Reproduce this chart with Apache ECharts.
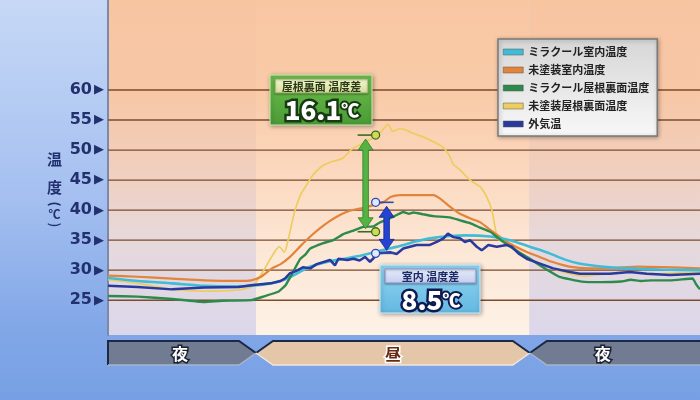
<!DOCTYPE html>
<html><head><meta charset="utf-8">
<script src="https://cdn.jsdelivr.net/npm/echarts@6/dist/echarts.min.js"></script>
<style>html,body{margin:0;padding:0;background:#7aa2e3}#c{width:700px;height:400px}</style>
</head><body><div id="c"></div>
<script>
// ---------- DATA ----------
const seriesNames = ['ミラクール室内温度', '未塗装室内温度', 'ミラクール屋根裏面温度', '未塗装屋根裏面温度', '外気温'];
const yTicks = [25, 30, 35, 40, 45, 50, 55, 60];
const yMin = 19.2, yMax = 75;           // temperature axis range (°C)
const xMin = 0, xMax = 24;              // time of day (h)
const periodStart = [0, 6, 17.1];
const periodEnd = [6, 17.1, 24];
const periodLabel = ['夜', '昼', '夜'];

const miracleIndoor = [[0,28.7],[1.2,28.2],[2.6,27.8],[3.9,27.4],[5.3,27.3],[5.8,27.4],[6.6,27.8],[7.2,28.5],[7.6,29.3],[8.2,30.6],[9.0,31.5],[9.6,31.9],[10.1,32.3],[10.9,33.1],[11.5,33.7],[12.0,34.2],[12.5,34.8],[13.05,35.3],[13.9,35.7],[14.5,35.8],[15.5,35.6],[16.3,35.0],[17.1,33.9],[17.9,32.8],[18.5,31.8],[19.1,31.1],[20.0,30.6],[21.0,30.3],[22.4,30.1],[24,30.0]];
const unpaintedIndoor = [[0,29.1],[1.2,28.9],[2.6,28.6],[3.9,28.3],[5.3,28.2],[5.8,28.3],[6.2,28.9],[6.65,30.3],[7.0,31.0],[7.4,32.3],[7.8,34.0],[8.2,35.6],[8.6,37.0],[9.0,38.2],[9.4,39.2],[9.8,39.9],[10.35,40.4],[10.9,41.0],[11.2,41.4],[11.45,42.2],[11.85,42.5],[13.2,42.5],[13.5,41.8],[13.86,40.6],[14.27,39.4],[14.7,38.6],[15.08,38.0],[15.6,36.4],[16.3,34.4],[17.0,33.0],[17.5,32.2],[18.0,31.4],[18.7,30.6],[19.5,30.3],[20.5,30.4],[21.5,30.6],[22.5,30.5],[24,30.3]];
const miracleRoof = [[0,25.7],[1.2,25.6],[2.6,25.2],[3.9,24.7],[4.6,24.9],[5.8,25.0],[6.3,25.6],[6.9,26.4],[7.2,27.5],[7.45,29.3],[7.78,31.8],[8.0,32.6],[8.2,33.6],[8.73,34.5],[9.13,35.0],[9.54,36.0],[9.95,36.6],[10.35,37.2],[10.76,37.3],[11.0,37.9],[11.3,38.4],[11.57,38.9],[11.97,39.7],[12.2,39.4],[12.38,39.6],[12.78,39.3],[13.19,39.0],[13.86,38.8],[14.27,38.3],[14.7,37.8],[15.08,37.1],[15.5,36.4],[15.8,35.4],[16.42,33.6],[17.1,31.9],[17.78,30.1],[18.3,28.9],[19.2,28.1],[20.0,28.0],[20.8,28.1],[21.2,28.4],[21.6,28.2],[22.0,28.3],[22.8,28.3],[23.7,28.6],[23.85,27.6],[24,26.8]];
const unpaintedRoof = [[0,28.4],[1.2,27.8],[2.6,26.8],[3.9,26.5],[5.3,26.7],[5.85,27.3],[6.2,29.2],[6.5,31.3],[6.8,33.3],[6.95,33.9],[7.15,33.0],[7.3,35.0],[7.55,39.5],[7.8,42.5],[8.05,44.2],[8.3,45.8],[8.7,47.4],[9.1,48.1],[9.5,48.6],[9.9,50.2],[10.5,51.5],[10.9,52.4],[11.1,53.2],[11.35,54.3],[11.55,53.1],[11.84,53.6],[12.1,53.3],[12.36,52.8],[12.77,52.2],[13.33,51.1],[13.6,50.4],[13.86,48.9],[14.0,47.6],[14.27,46.7],[14.68,45.0],[15.08,43.9],[15.35,42.2],[15.56,40.0],[15.69,37.2],[15.81,35.2],[16.3,34.2],[16.97,32.2],[17.51,31.1],[17.92,30.4],[18.7,29.4],[19.3,29.0],[20.0,29.3],[21.0,29.7],[22.4,29.4],[24,29.7]];
const outdoor = [[0,27.4],[1.2,27.2],[2.6,26.8],[3.9,27.1],[5.3,27.2],[5.8,27.5],[6.6,27.8],[7.0,28.2],[7.2,28.7],[7.38,29.5],[7.6,29.8],[7.92,30.5],[8.2,30.3],[8.46,31.0],[9.0,31.7],[9.2,30.8],[9.34,31.9],[9.7,31.7],[9.95,31.9],[10.2,31.6],[10.42,32.2],[10.62,31.4],[10.96,32.8],[11.43,33.0],[11.7,32.7],[11.97,33.6],[12.51,34.2],[13.05,34.2],[13.33,34.7],[13.6,35.3],[13.78,36.1],[14.0,35.5],[14.27,35.3],[14.47,34.7],[14.68,35.0],[14.95,33.9],[15.15,33.3],[15.42,34.2],[15.76,33.9],[16.16,34.2],[16.37,33.9],[16.64,32.8],[16.97,31.9],[17.51,31.1],[18.05,30.3],[18.73,29.7],[19.13,29.4],[20.35,29.4],[21.16,29.7],[21.84,29.4],[22.78,29.2],[24,29.4]];

// temperature difference annotations
const diffHour = [10.85, 10.85];
const diffTop = [52.5, 41.3];
const diffBottom = [36.4, 32.8];
const diffValue = [16.1, 8.5];
const diffTitle = ['屋根裏面 温度差', '室内 温度差'];

// ---------- STYLE ----------
const FONT = '"Noto Sans CJK JP", "Noto Sans CJK SC", sans-serif';
const NAVY = '#22306e';
const lineColors = ['#40bcd7', '#e3843a', '#2c8a4c', '#eccd5e', '#283a9e'];
const lineWidths = [2.6, 2.2, 2.4, 1.7, 2.5];
const lineSmooth = [0.25, 0.2, 0.1, 0.2, 0];
const lineZ = [5, 4, 5, 3, 6];
const annotStyle = [
  {offset: -10, dir: -1, fill: '#54b443', edge: '#2f7d2a', circle: '#cddc55', ring: '#3c6a1e'},
  {offset: 11, dir: 1, fill: '#2443d2', edge: '#112a8e', circle: '#dfe9ff', ring: '#3048b0'}
];

function vgrad(stops) {
  return new echarts.graphic.LinearGradient(0, 0, 0, 1, stops.map(s => ({offset: s[0], color: s[1]})));
}
const nightBg = [[0,'#f8c5a1'],[0.28,'#f7c7a6'],[0.5,'#f1cfbd'],[0.72,'#e6d9dc'],[1,'#dbd7ea']];
const dayBg = [[0,'#f9c6a2'],[0.28,'#f9cba8'],[0.5,'#fbd7bd'],[0.72,'#fce6d4'],[1,'#fdf2e6']];

const chart = echarts.init(document.getElementById('c'), null, {renderer: 'canvas'});

const periodSeries = {
  type: 'custom', name: 'periods', z: 0, clip: false, silent: true,
  data: periodStart.map((s, i) => [s, periodEnd[i], yMin]),
  encode: {x: [0, 1], y: 2},
  renderItem(params, api) {
    const i = params.dataIndex, last = periodStart.length - 1;
    const a = api.coord([api.value(0), yMax]);
    const b = api.coord([api.value(1), yMin]);
    const x0 = a[0], x1 = b[0], top = a[1], bot = b[1];
    const isDay = periodLabel[i] === '昼';
    const by0 = bot + 6, by1 = bot + 30, bm = (by0 + by1) / 2, d = 17;
    const topPts = [], botPts = [];
    if (i === 0) { topPts.push([x0, by1], [x0, by0]); } else { topPts.push([x0, bm], [x0 + d, by0]); }
    if (i === last) { topPts.push([x1, by0]); } else { topPts.push([x1 - d, by0], [x1, bm]); }
    if (i === last) { botPts.push([x1, by1]); } else { botPts.push([x1, bm], [x1 - d, by1]); }
    if (i === 0) { botPts.push([x0, by1]); } else { botPts.push([x0 + d, by1], [x0, bm]); }
    const poly = topPts.concat(botPts);
    let tx;
    if (i === 0) tx = x1 - 76; else if (i === last) tx = x0 + 73; else tx = (x0 + x1) / 2;
    return {
      type: 'group',
      children: [
        {type: 'rect', shape: {x: x0, y: top, width: x1 - x0, height: bot - top}, style: {fill: vgrad(isDay ? dayBg : nightBg)}},
        {type: 'polygon', shape: {points: poly}, style: {fill: isDay ? '#e4c7a9' : '#717b91'}},
        {type: 'polyline', shape: {points: topPts}, style: {stroke: '#1d2747', lineWidth: 2, fill: null}},
        {type: 'polyline', shape: {points: botPts}, style: {stroke: isDay ? '#f4e6d8' : '#a9b4cc', lineWidth: 1.5, fill: null}},
        {type: 'text', x: tx, y: bm + 1, style: {text: periodLabel[i], align: 'center', verticalAlign: 'middle',
          font: 'bold 16px ' + FONT, fill: isDay ? '#6a2810' : '#ffffff',
          stroke: isDay ? '#ffffff' : '#1a2030', lineWidth: 3}}
      ]
    };
  }
};

const gridSeries = {
  type: 'custom', name: 'gridlines', z: 1, silent: true,
  data: yTicks.map(v => [xMin, v, xMax]),
  encode: {x: [0, 2], y: 1},
  renderItem(params, api) {
    const p1 = api.coord([api.value(0), api.value(1)]);
    const p2 = api.coord([api.value(2), api.value(1)]);
    return {type: 'line', shape: {x1: p1[0], y1: p1[1], x2: p2[0], y2: p2[1]},
      style: {stroke: '#7b4a2f', lineWidth: 1.4}};
  }
};

const lineData = [miracleIndoor, unpaintedIndoor, miracleRoof, unpaintedRoof, outdoor];
const lineSeries = lineData.map((d, i) => ({
  type: 'line', name: seriesNames[i], data: d, z: lineZ[i],
  showSymbol: false, smooth: lineSmooth[i],
  lineStyle: {color: lineColors[i], width: lineWidths[i]},
  itemStyle: {color: lineColors[i]}
}));

const annotSeries = {
  type: 'custom', name: 'diff', z: 10, clip: false, silent: true,
  data: diffHour.map((h, i) => [h, diffTop[i], diffBottom[i]]),
  encode: {x: 0, y: [1, 2]},
  renderItem(params, api) {
    const st = annotStyle[params.dataIndex];
    const p1 = api.coord([api.value(0), api.value(1)]);
    const p2 = api.coord([api.value(0), api.value(2)]);
    const ax = p1[0] + st.offset;
    const hw = 7.5, hh = 11, sw = 2.8;
    const t = p1[1] + 4, b = p2[1] - 3;
    return {
      type: 'group',
      children: [
        {type: 'line', shape: {x1: p1[0], y1: p1[1], x2: p1[0] + st.dir * 18, y2: p1[1]}, style: {stroke: st.ring, lineWidth: 1.6}},
        {type: 'line', shape: {x1: p2[0], y1: p2[1], x2: p2[0] + st.dir * 18, y2: p2[1]}, style: {stroke: st.ring, lineWidth: 1.6}},
        {type: 'polygon', shape: {points: [[ax, t], [ax + hw, t + hh], [ax + sw, t + hh], [ax + sw, b - hh], [ax + hw, b - hh], [ax, b], [ax - hw, b - hh], [ax - sw, b - hh], [ax - sw, t + hh], [ax - hw, t + hh]]},
          style: {fill: st.fill, stroke: st.edge, lineWidth: 0.8}},
        {type: 'circle', shape: {cx: p1[0], cy: p1[1], r: 4}, style: {fill: st.circle, stroke: st.ring, lineWidth: 1.3}},
        {type: 'circle', shape: {cx: p2[0], cy: p2[1], r: 4}, style: {fill: st.circle, stroke: st.ring, lineWidth: 1.3}}
      ]
    };
  }
};

function diffBox(x, y, w, h, i, outer, outerStroke, strip, stripStroke, titleColor, numStroke) {
  const Z = 100;
  return [
    {type: 'rect', z: Z, x: x, y: y, shape: {x: 0, y: 0, width: w, height: h}, style: {fill: vgrad(outer), stroke: outerStroke, lineWidth: 1, shadowBlur: 4, shadowColor: 'rgba(0,0,0,0.35)', shadowOffsetX: 1, shadowOffsetY: 1}},
    {type: 'rect', z: Z + 1, x: x, y: y, shape: {x: 5, y: 4, width: w - 9, height: 14}, style: {fill: vgrad(strip), stroke: stripStroke, lineWidth: 1, shadowBlur: 2, shadowColor: 'rgba(0,0,0,0.3)', shadowOffsetY: 1}},
    {type: 'text', z: Z + 2, x: x + w / 2 + 0.5, y: y + 11.5, style: {text: diffTitle[i], align: 'center', verticalAlign: 'middle', font: 'bold 11px ' + FONT, fill: titleColor}},
    {type: 'text', z: Z + 2, x: x + w / 2 + 1, y: y + 35, style: {
      text: '{n|' + diffValue[i].toFixed(1) + '}{u|℃}', align: 'center', verticalAlign: 'middle',
      rich: {
        n: {font: '900 26px ' + FONT, fill: '#ffffff', stroke: numStroke, lineWidth: 5},
        u: {font: '900 18px ' + FONT, fill: '#ffffff', stroke: numStroke, lineWidth: 4}
      }}}
  ];
}

const option = {
  animation: false,
  backgroundColor: vgrad([[0, '#c6d8f5'], [0.5, '#a4bff0'], [0.84, '#80a6e7'], [1, '#76a0e3']]),
  textStyle: {fontFamily: FONT},
  grid: {left: 108, right: 0, top: 0, height: 335},
  xAxis: {type: 'value', min: xMin, max: xMax, show: false},
  yAxis: {
    type: 'value', min: yMin, max: yMax, splitNumber: 11,
    axisLine: {show: true, lineStyle: {color: '#7c89a8', width: 2}},
    axisTick: {show: false}, splitLine: {show: false},
    axisLabel: {
      margin: 4,
      formatter: v => yTicks.indexOf(v) >= 0 ? '{n|' + v + '}{t|▶}' : '',
      rich: {
        n: {fontFamily: 'DejaVu Sans', fontWeight: 'bold', fontSize: 16, color: NAVY},
        t: {fontFamily: 'DejaVu Sans', fontSize: 13, color: NAVY, padding: [0, 0, 0, 2]}
      }
    }
  },
  legend: {
    data: seriesNames, orient: 'vertical', left: 498, top: 39,
    itemWidth: 20, itemHeight: 6, itemGap: 6, icon: 'rect',
    padding: [7, 8, 6, 5],
    backgroundColor: vgrad([[0, '#d6d6d6'], [1, '#f8f8f8']]),
    borderColor: '#7a7a7a', borderWidth: 1.5,
    shadowBlur: 4, shadowColor: 'rgba(0,0,0,0.3)', shadowOffsetX: 1, shadowOffsetY: 1,
    itemStyle: {borderColor: '#555', borderWidth: 0.5},
    textStyle: {fontFamily: FONT, fontSize: 11, fontWeight: 'bold', color: '#222', lineHeight: 12}
  },
  graphic: [
    {type: 'text', x: 54.5, y: 159, z: 100, style: {text: '温', align: 'center', verticalAlign: 'middle', font: 'bold 15px ' + FONT, fill: NAVY}},
    {type: 'text', x: 54.5, y: 187.5, z: 100, style: {text: '度', align: 'center', verticalAlign: 'middle', font: 'bold 15px ' + FONT, fill: NAVY}},
    {type: 'text', x: 55, y: 204, z: 100, rotation: -Math.PI / 2, style: {text: '(', align: 'center', verticalAlign: 'middle', font: 'bold 13px ' + FONT, fill: NAVY}},
    {type: 'text', x: 54.5, y: 214, z: 100, style: {text: '℃', align: 'center', verticalAlign: 'middle', font: 'bold 12px ' + FONT, fill: NAVY}},
    {type: 'text', x: 55, y: 225, z: 100, rotation: -Math.PI / 2, style: {text: ')', align: 'center', verticalAlign: 'middle', font: 'bold 13px ' + FONT, fill: NAVY}}
  ].concat(
    diffBox(270, 75, 102, 50, 0, [[0, '#6cc04b'], [1, '#4a9a36']], '#d2ecb4', [[0, '#f6f8cf'], [1, '#d4dc98']], '#8aa860', '#2a3a18', '#173a12'),
    diffBox(380, 265, 100, 48, 1, [[0, '#93d6f2'], [1, '#63b8e1']], '#cdeeff', [[0, '#e6ecfb'], [1, '#c4cdf0']], '#8a98c8', '#1c2a66', '#0f1a50')
  ),
  series: [periodSeries, gridSeries].concat(lineSeries, [annotSeries])
};
chart.setOption(option);
</script>
</body></html>
